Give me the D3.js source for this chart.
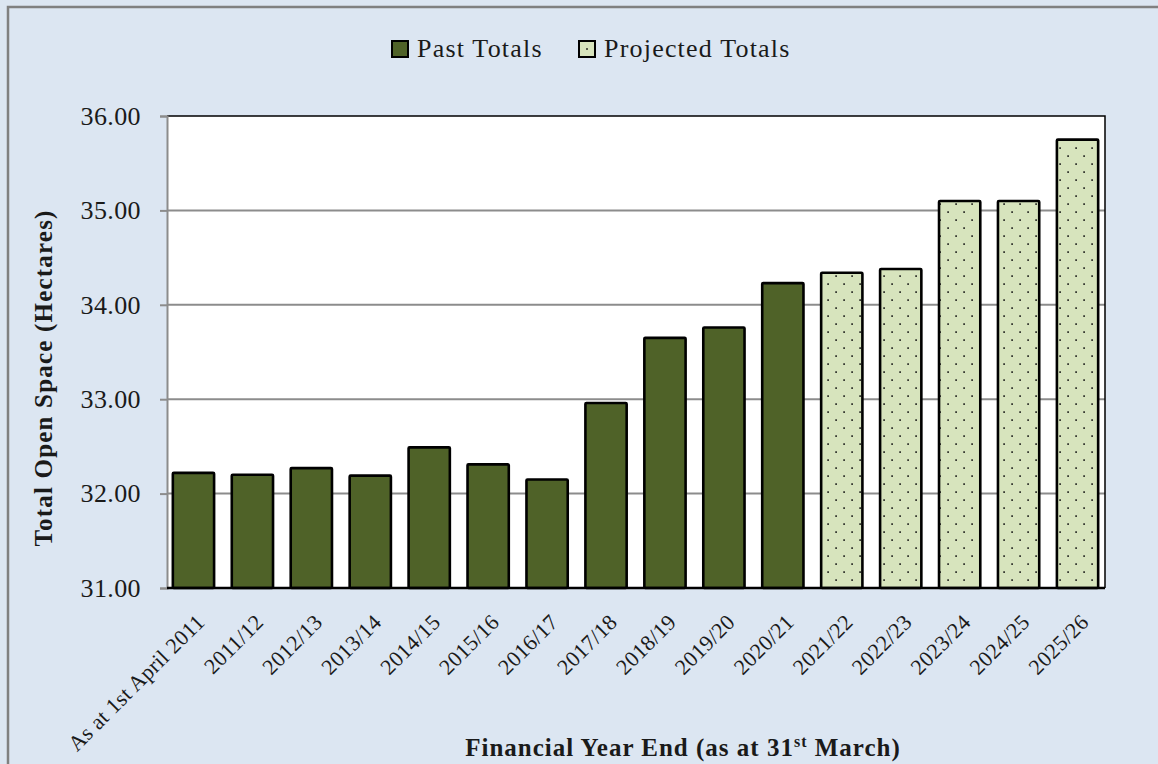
<!DOCTYPE html>
<html>
<head>
<meta charset="utf-8">
<script src="https://cdn.jsdelivr.net/npm/d3@7"></script>
<style>
  html, body { margin: 0; padding: 0; background: #dce6f2; }
  svg { display: block; }
  text { font-family: "Palatino Linotype", "Book Antiqua", Palatino, "Liberation Serif", "DejaVu Serif", serif; fill: #1a1a1a; }
</style>
</head>
<body>
<svg id="chart" width="1158" height="764"></svg>
<script>
const categories = ["As at 1st April 2011", "2011/12", "2012/13", "2013/14", "2014/15", "2015/16", "2016/17", "2017/18", "2018/19", "2019/20", "2020/21", "2021/22", "2022/23", "2023/24", "2024/25", "2025/26"];
const values = [32.22, 32.20, 32.27, 32.19, 32.49, 32.31, 32.15, 32.96, 33.65, 33.76, 34.23, 34.34, 34.38, 35.10, 35.10, 35.75];
const seriesType = ["past","past","past","past","past","past","past","past","past","past","past","proj","proj","proj","proj","proj"];
const seriesNames = ["Past Totals", "Projected Totals"];
const yTicks = [31, 32, 33, 34, 35, 36];

const FONT = "\"Palatino Linotype\", \"Book Antiqua\", Palatino, \"Liberation Serif\", serif";
const svg = d3.select("#chart");
const W = 1158, H = 764;
const plot = { left: 167, right: 1105, top: 116, bottom: 588 };

// background and outer border
svg.append("rect").attr("x", 0).attr("y", 0).attr("width", W).attr("height", H).attr("fill", "#dce6f2");
svg.append("path").attr("d", `M8,${H} L8,7 L${W},7`).attr("fill", "none").attr("stroke", "#808080").attr("stroke-width", 2.5);

// pattern
const defs = svg.append("defs");
const pat = defs.append("pattern").attr("id", "dots").attr("patternUnits", "userSpaceOnUse")
  .attr("width", 16).attr("height", 16);
pat.append("rect").attr("width", 16).attr("height", 16).attr("fill", "#d7e4bd");
pat.append("rect").attr("x", 3.3).attr("y", 3.3).attr("width", 1.6).attr("height", 1.6).attr("fill", "#111");
pat.append("rect").attr("x", 11.3).attr("y", 11.3).attr("width", 1.6).attr("height", 1.6).attr("fill", "#111");

const x = d3.scaleBand().domain(categories).range([164, 1107]).paddingInner(0.3).paddingOuter(0.15);
const y = d3.scaleLinear().domain([31, 36]).range([plot.bottom, plot.top]);

// plot area
svg.append("rect").attr("x", plot.left).attr("y", plot.top)
  .attr("width", plot.right - plot.left).attr("height", plot.bottom - plot.top).attr("fill", "#ffffff");

// gridlines
svg.append("g").selectAll("line").data(yTicks.filter(d => d > 31 && d < 36)).join("line")
  .attr("x1", plot.left).attr("x2", plot.right)
  .attr("y1", d => y(d)).attr("y2", d => y(d))
  .attr("stroke", "#8c8c8c").attr("stroke-width", 2);

// bars
svg.append("g").selectAll("rect").data(categories).join("rect")
  .attr("x", d => x(d))
  .attr("y", (d, i) => y(values[i]))
  .attr("width", x.bandwidth())
  .attr("height", (d, i) => y(31) - y(values[i]))
  .attr("fill", (d, i) => seriesType[i] === "past" ? "#4f6228" : "url(#dots)")
  .attr("stroke", "#000").attr("stroke-width", 2.6)
  .attr("rx", 1);

// plot border top/right
svg.append("path").attr("d", `M${plot.left},${plot.top} L${plot.right},${plot.top} L${plot.right},${plot.bottom}`)
  .attr("fill", "none").attr("stroke", "#000").attr("stroke-width", 1.5);

// y axis
const yAxis = d3.axisLeft(y).tickValues(yTicks).tickFormat(d3.format(".2f")).tickSize(7).tickPadding(19);
const gy = svg.append("g").attr("transform", `translate(${plot.left},0)`).call(yAxis);
gy.select(".domain").attr("stroke", "#8c8c8c").attr("stroke-width", 2);
gy.selectAll(".tick line").attr("stroke", "#8c8c8c").attr("stroke-width", 2);
gy.selectAll(".tick text").attr("font-size", 26).attr("fill", "#1a1a1a")
  .attr("letter-spacing", 0.4)
  .style("font-family", FONT);

// x axis
const xAxis = d3.axisBottom(x).tickSize(0).tickPadding(0);
const gx = svg.append("g").attr("transform", `translate(0,${plot.bottom})`).call(xAxis);
gx.select(".domain").attr("stroke", "#000").attr("stroke-width", 2.5).attr("d", `M${plot.left},0H${plot.right}`);
gx.selectAll(".tick text")
  .attr("font-size", 22).attr("fill", "#1a1a1a")
  .attr("letter-spacing", 0.3)
  .attr("text-anchor", "end").attr("dy", "0.35em")
  .attr("transform", "translate(7,30) rotate(-45)")
  .style("font-family", FONT);

// y title
svg.append("text").attr("transform", `translate(52,378) rotate(-90)`)
  .attr("text-anchor", "middle").attr("font-size", 25).attr("font-weight", "bold")
  .attr("letter-spacing", 1.2)
  .text("Total Open Space (Hectares)");

// x title
const xt = svg.append("text").attr("x", 683).attr("y", 756).attr("text-anchor", "middle")
  .attr("font-size", 25).attr("font-weight", "bold").attr("letter-spacing", 1.0);
xt.append("tspan").text("Financial Year End (as at 31");
xt.append("tspan").attr("font-size", 16).attr("dy", -9).text("st");
xt.append("tspan").attr("dy", 9).text(" March)");

// legend
const legend = svg.append("g");
const legItems = [
  { name: seriesNames[0], fill: "#4f6228", x: 392 },
  { name: seriesNames[1], fill: "#d7e4bd", x: 579 }
];
legItems.forEach((it, i) => {
  legend.append("rect").attr("x", it.x).attr("y", 41).attr("width", 16).attr("height", 16)
    .attr("fill", it.fill).attr("stroke", "#000").attr("stroke-width", 2);
  if (i === 1) legend.append("rect").attr("x", it.x + 7.2).attr("y", 48.2).attr("width", 1.6).attr("height", 1.6).attr("fill", "#111");
  legend.append("text").attr("x", it.x + 25).attr("y", 57).attr("font-size", 26)
    .attr("letter-spacing", 1.2).text(it.name);
});
</script>
</body>
</html>
